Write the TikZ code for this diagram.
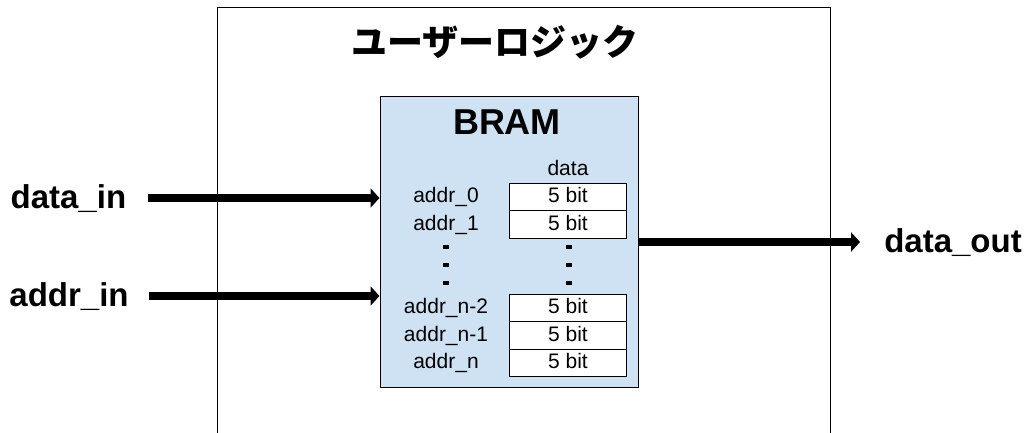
\documentclass[tikz,border=0pt]{standalone}
\usepackage{fontspec}
\setmainfont{Liberation Sans}
\newfontfamily\jpfont{Noto Sans CJK JP}
\usetikzlibrary{matrix,arrows.meta}
\definecolor{bramblue}{HTML}{CFE2F3}

\begin{document}
\begin{tikzpicture}[x=1pt,y=-1pt,
        bus/.style={line width=8.5pt, -{Triangle[length=9pt,width=19pt]}},
        portlabel/.style={font=\bfseries\fontsize{33}{36}\selectfont, inner sep=0pt, text height=24pt, text depth=4pt},
        dotmark/.style={fill=black, minimum width=6pt, minimum height=4pt, inner sep=0pt}]
        \useasboundingbox (0,0) rectangle (1030,433);
        \clip (0,0) rectangle (1030,433);
        \node[draw, line width=1pt, minimum width=613pt, minimum height=425pt, inner sep=0pt] (logic) at (523.5,220.5) {};
        \node[font=\jpfont\bfseries\fontsize{36}{40}\selectfont] (title) at (495,42) {ユーザーロジック};
        \node[draw, line width=1pt, fill=bramblue, minimum width=258pt, minimum height=290pt, inner sep=0pt] (bram) at (509,242) {};
        \node[font=\bfseries\fontsize{36}{40}\selectfont, inner sep=0pt] (bramname) at (507,122) {BRAM};
        \matrix[matrix of nodes, inner sep=0pt, nodes={font=\fontsize{21}{24}\selectfont, inner sep=0pt, text height=15pt, text depth=4pt, minimum height=27.5pt, anchor=center}, column 1/.style={nodes={minimum width=128pt}}, column 2/.style={nodes={draw, line width=1pt, fill=white, minimum width=117pt}}, column sep=-1pt, row sep=-1pt] (upper) at (504.5,197.5) {
             & |[draw=none, fill=none]| data \\
            addr\_0 & 5 bit \\
            addr\_1 & 5 bit \\
        };
        \matrix[matrix of nodes, inner sep=0pt, nodes={font=\fontsize{21}{24}\selectfont, inner sep=0pt, text height=15pt, text depth=4pt, minimum height=27.5pt, anchor=center}, column 1/.style={nodes={minimum width=128pt}}, column 2/.style={nodes={draw, line width=1pt, fill=white, minimum width=117pt}}, column sep=-1pt, row sep=-1pt] (lower) at (504.5,335.5) {
            addr\_n-2 & 5 bit \\
            addr\_n-1 & 5 bit \\
            addr\_n & 5 bit \\
        };
        \foreach \y [count=\i] in {247,265,283} {
            \node[dotmark] (ldot\i) at (446,\y) {};
            \node[dotmark] (rdot\i) at (569,\y) {};
        }
        \node[portlabel] (datain) at (68.5,198) {data\_in};
        \node[portlabel] (addrin) at (69,296) {addr\_in};
        \node[portlabel] (dataout) at (953,242) {data\_out};
        \draw[bus] ([xshift=22pt]datain.east) -- (datain -| bram.west);
        \draw[bus] ([xshift=20pt]addrin.east) -- (addrin -| bram.west);
        \draw[bus] (bram.east) -- ([xshift=-24pt]dataout.west);
\end{tikzpicture}
\end{document}
